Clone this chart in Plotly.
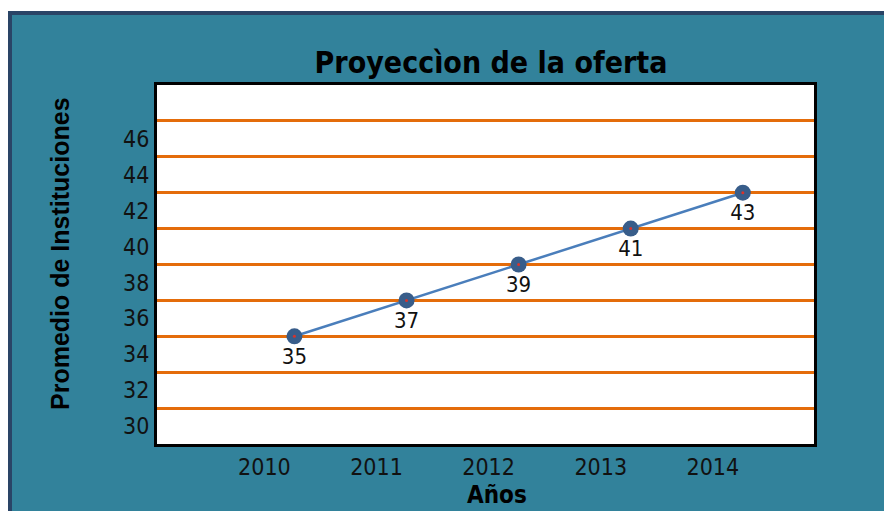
import plotly.graph_objects as go

# Series data
years = [2010, 2011, 2012, 2013, 2014]
promedio = [35, 37, 39, 41, 43]

# Axis labelling
y_ticks = [30, 32, 34, 36, 38, 40, 42, 44, 46]
y_grid = [31, 33, 35, 37, 39, 41, 43, 45, 47]

W, H = 884, 511
# plot-area box in pixels
L, R, T, B = 157, 814, 85, 444
PW, PH = R - L, B - T


def px_x(p):
    return (p - L) / PW


def px_y(p):
    return (B - p) / PH


TEAL = "#32829B"
NAVY = "#2A4466"
ORANGE = "#E46C0A"
NARROW = "DejaVu Sans Condensed, Liberation Sans Narrow, sans-serif"

fig = go.Figure()

fig.add_trace(go.Scatter(
    x=years, y=promedio,
    mode="lines+markers+text",
    line=dict(color="#4A7EBB", width=2.5),
    marker=dict(size=16, color="#385D8A"),
    text=[str(v) for v in promedio],
    textposition="bottom center",
    textfont=dict(family=NARROW, size=22, color="#111111"),
    cliponaxis=False,
    showlegend=False,
))
# small red centre dot on each marker
fig.add_trace(go.Scatter(
    x=years, y=promedio, mode="markers",
    marker=dict(size=3, color="#D9332B"),
    hoverinfo="skip", showlegend=False,
))

shapes = [
    # teal panel with dark frame
    dict(type="rect", xref="paper", yref="paper",
         x0=px_x(10), x1=px_x(W + 20), y0=px_y(W + 40), y1=px_y(13),
         fillcolor=TEAL, line=dict(color=NAVY, width=4), layer="below"),
    # white plotting area
    dict(type="rect", xref="paper", yref="paper", x0=0, x1=1, y0=0, y1=1,
         fillcolor="white", line=dict(width=0), layer="below"),
]

fig.update_layout(
    width=W, height=H,
    margin=dict(l=L, r=W - R, t=T, b=H - B),
    paper_bgcolor="white",
    plot_bgcolor="white",
    shapes=shapes,
    title=dict(
        text="<b>Proyeccìon de la oferta</b>",
        font=dict(family=NARROW, size=30, color="#000000"),
        x=px_x(491), xref="paper", xanchor="center",
        y=1 - 62 / H, yref="container", yanchor="middle",
    ),
    xaxis=dict(
        range=[2008.774, 2014.635],
        tickmode="array", tickvals=years, ticktext=[str(y) for y in years],
        ticklabelshift=-30,
        showgrid=False, zeroline=False,
        showline=True, linecolor="black", linewidth=3, mirror=True,
        ticks="", tickfont=dict(family=NARROW, size=23, color="#111111"),
    ),
    yaxis=dict(
        range=[29, 49],
        tickmode="array", tickvals=y_ticks, ticktext=[str(v) for v in y_ticks],
        showgrid=False, zeroline=False,
        minor=dict(tickmode="array", tickvals=y_grid, showgrid=True,
                   gridcolor=ORANGE, gridwidth=2.5, ticks=""),
        showline=True, linecolor="black", linewidth=3, mirror=True,
        ticks="", tickfont=dict(family=NARROW, size=23, color="#111111"),
    ),
    annotations=[
        dict(text="<b>Promedio de Instituciones</b>", textangle=-90,
             xref="paper", yref="paper", x=px_x(60), y=px_y(254),
             xanchor="center", yanchor="middle", showarrow=False,
             font=dict(family="Liberation Sans, Arial, sans-serif", size=25, color="#000000")),
        dict(text="<b>Años</b>",
             xref="paper", yref="paper", x=px_x(497), y=px_y(495),
             xanchor="center", yanchor="middle", showarrow=False,
             font=dict(family=NARROW, size=24, color="#000000")),
    ],
)

fig.write_html("out.html")
